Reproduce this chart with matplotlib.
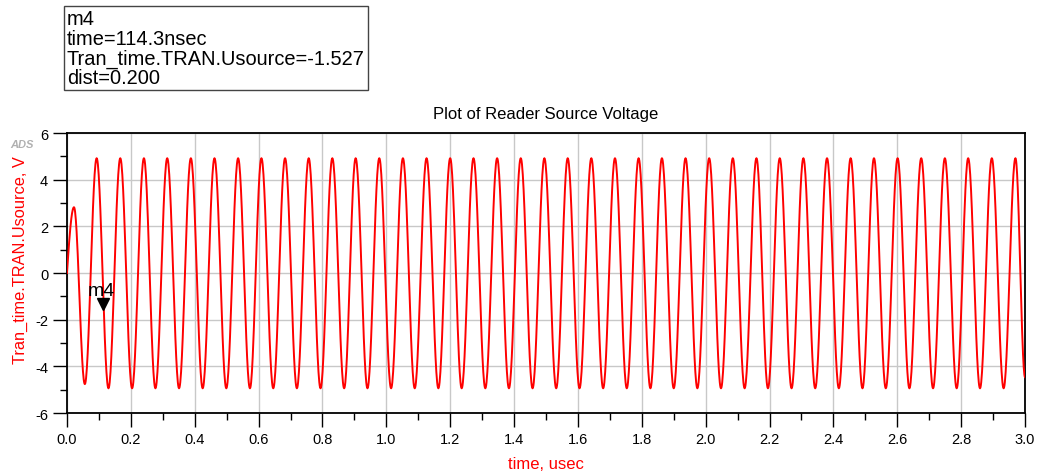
import numpy as np
import matplotlib
matplotlib.use("Agg")
import matplotlib.pyplot as plt

plt.rcParams['font.family'] = ['Liberation Sans', 'DejaVu Sans']
plt.rcParams['axes.unicode_minus'] = False

# Turning points of the source voltage (time in usec, volts)
peak_times = [0.000, 0.022, 0.056,
              0.093, 0.130, 0.167, 0.204, 0.241, 0.277, 0.314, 0.351,
              0.388, 0.425, 0.462, 0.499, 0.536, 0.573, 0.609, 0.646,
              0.683, 0.720, 0.757, 0.794, 0.831, 0.868, 0.904, 0.941,
              0.978, 1.015, 1.052, 1.089, 1.126, 1.163, 1.200, 1.236,
              1.273, 1.310, 1.347, 1.384, 1.421, 1.458, 1.495, 1.532,
              1.568, 1.605, 1.642, 1.679, 1.716, 1.753, 1.790, 1.827,
              1.863, 1.900, 1.937, 1.974, 2.011, 2.048, 2.085, 2.122,
              2.159, 2.195, 2.232, 2.269, 2.306, 2.343, 2.380, 2.417,
              2.454, 2.491, 2.527, 2.564, 2.601, 2.638, 2.675, 2.712,
              2.749, 2.786, 2.822, 2.859, 2.896, 2.933, 2.970, 3.000]
peak_volts = [0.00, 2.82, -4.76] + [4.92, -4.94] * 39 + [4.92, -4.46]

# marker m4
m4_time = 0.1143   # usec
m4_volt = -1.527

# draw each stretch between turning points as a half cosine
t_list = []
v_list = []
for i in range(len(peak_times) - 1):
    t0, t1 = peak_times[i], peak_times[i + 1]
    v0, v1 = peak_volts[i], peak_volts[i + 1]
    s = np.linspace(0, 1, 30)
    if i == 0:
        shape = np.sin(s * np.pi / 2)
    else:
        shape = (1 - np.cos(np.pi * s)) / 2
    t_list.append(t0 + (t1 - t0) * s)
    v_list.append(v0 + (v1 - v0) * shape)
t = np.concatenate(t_list)
v = np.concatenate(v_list)

fig = plt.figure(figsize=(10.38, 4.77), dpi=100)
ax = fig.add_axes([0.0645, 0.132, 0.923, 0.587])

ax.plot(t, v, color="#ff0000", linewidth=1.4, zorder=3)

ax.set_xlim(0, 3.0)
ax.set_ylim(-6, 6)
ax.set_xticks(np.arange(0, 3.01, 0.2))
ax.set_xticks(np.arange(0.1, 3.0, 0.2), minor=True)
ax.set_yticks(np.arange(-6, 7, 2))
ax.set_yticks(np.arange(-5, 6, 2), minor=True)
ax.set_xticklabels(["%.1f" % x for x in np.arange(0, 3.01, 0.2)])
ax.tick_params(axis="both", which="major", direction="out", length=10, width=1,
               labelsize=10.5, colors="black")
ax.tick_params(axis="both", which="minor", direction="out", length=5, width=1)
ax.tick_params(axis="x", pad=4)
ax.grid(True, which="major", color="#c8c8c8", linewidth=1)
for sp in ax.spines.values():
    sp.set_linewidth(1.3)
    sp.set_color("black")

ax.set_xlabel("time, usec", color="#ff0000", fontsize=12)
ax.xaxis.set_label_coords(0.5, -0.155)
ax.set_ylabel("Tran_time.TRAN.Usource, V", color="#ff0000", fontsize=11.8)
ax.yaxis.set_label_coords(-0.041, 0.55)
ax.set_title("Plot of Reader Source Voltage", fontsize=12, pad=11)

# marker triangle + label
ax.plot(m4_time, m4_volt + 0.2, marker="v", color="black", markersize=9, zorder=4)
ax.annotate("m4", (m4_time, m4_volt), xytext=(-11, 10), textcoords="offset points",
            fontsize=14, color="black")

# marker readout box
fig.text(0.0645, 0.978,
         "m4\ntime=114.3nsec\nTran_time.TRAN.Usource=-1.527\ndist=0.200",
         fontsize=14.4, linespacing=1.03, va="top", ha="left",
         bbox=dict(boxstyle="square,pad=0.15", facecolor="white", edgecolor="#444444", linewidth=1))

# ADS logo
fig.text(0.01, 0.69, "ADS", fontsize=8, color="#b0b0b0", style="italic", fontweight="bold")

fig.savefig("out.png", dpi=100)
